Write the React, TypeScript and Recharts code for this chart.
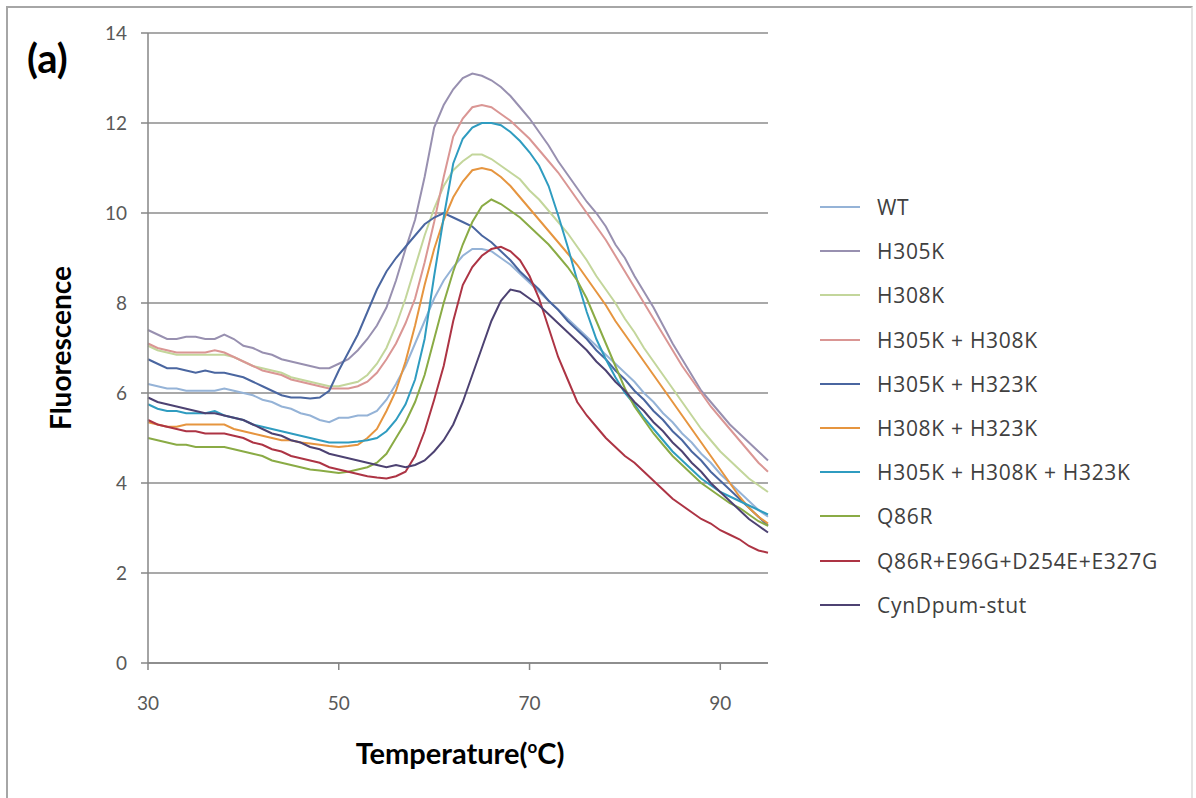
import React from 'react';
import { LineChart, Line, XAxis, YAxis, CartesianGrid } from 'recharts';

// temperature (°C) sampled every degree
const temps = [
  30, 31, 32, 33, 34, 35, 36, 37, 38, 39, 40, 41, 42, 43, 44, 45, 46, 47, 48, 49, 50, 51,
  52, 53, 54, 55, 56, 57, 58, 59, 60, 61, 62, 63, 64, 65, 66, 67, 68, 69, 70, 71, 72, 73,
  74, 75, 76, 77, 78, 79, 80, 81, 82, 83, 84, 85, 86, 87, 88, 89, 90, 91, 92, 93, 94, 95,
];

const wt = [
  6.2, 6.15, 6.1, 6.1, 6.05, 6.05, 6.05, 6.05, 6.1, 6.05, 6.0, 5.95, 5.85, 5.8, 5.7, 5.65, 5.55, 5.5, 5.4, 5.35, 5.45, 5.45,
  5.5, 5.5, 5.6, 5.85, 6.2, 6.6, 7.1, 7.6, 8.1, 8.5, 8.8, 9.05, 9.2, 9.2, 9.15, 9.0, 8.85, 8.65, 8.45, 8.25, 8.05, 7.85,
  7.65, 7.45, 7.25, 7.05, 6.85, 6.65, 6.45, 6.25, 6.0, 5.8, 5.55, 5.35, 5.1, 4.9, 4.65, 4.45, 4.2, 4.0, 3.8, 3.6, 3.4, 3.25,
];

const h305k = [
  7.4, 7.3, 7.2, 7.2, 7.25, 7.25, 7.2, 7.2, 7.3, 7.2, 7.05, 7.0, 6.9, 6.85, 6.75, 6.7, 6.65, 6.6, 6.55, 6.55, 6.65, 6.75,
  6.95, 7.2, 7.5, 7.9, 8.5, 9.2, 9.85, 10.8, 11.9, 12.4, 12.75, 13.0, 13.1, 13.05, 12.95, 12.8, 12.6, 12.35, 12.1, 11.8, 11.5, 11.15,
  10.85, 10.55, 10.25, 10.0, 9.7, 9.3, 9.0, 8.6, 8.25, 7.9, 7.5, 7.1, 6.75, 6.4, 6.05, 5.8, 5.55, 5.3, 5.1, 4.9, 4.7, 4.5,
];

const h308k = [
  7.05, 6.95, 6.9, 6.85, 6.85, 6.85, 6.85, 6.85, 6.85, 6.8, 6.7, 6.6, 6.55, 6.5, 6.45, 6.35, 6.3, 6.25, 6.2, 6.15, 6.15, 6.2,
  6.25, 6.4, 6.65, 7.0, 7.5, 8.1, 8.8, 9.5, 10.1, 10.6, 10.95, 11.15, 11.3, 11.3, 11.2, 11.05, 10.9, 10.75, 10.5, 10.3, 10.05, 9.8,
  9.55, 9.25, 8.95, 8.6, 8.3, 8.0, 7.65, 7.35, 7.0, 6.7, 6.4, 6.1, 5.8, 5.5, 5.2, 4.95, 4.7, 4.5, 4.3, 4.1, 3.95, 3.8,
];

const h305kH308k = [
  7.1, 7.0, 6.95, 6.9, 6.9, 6.9, 6.9, 6.95, 6.9, 6.8, 6.7, 6.6, 6.5, 6.45, 6.4, 6.3, 6.25, 6.2, 6.15, 6.1, 6.1, 6.1,
  6.15, 6.25, 6.45, 6.75, 7.1, 7.55, 8.1, 8.9, 9.8, 10.8, 11.7, 12.1, 12.35, 12.4, 12.35, 12.2, 12.05, 11.85, 11.65, 11.4, 11.15, 10.9,
  10.6, 10.3, 10.0, 9.7, 9.4, 9.05, 8.7, 8.35, 8.0, 7.65, 7.3, 6.95, 6.6, 6.3, 6.0, 5.7, 5.45, 5.2, 4.95, 4.7, 4.45, 4.25,
];

const h305kH323k = [
  6.75, 6.65, 6.55, 6.55, 6.5, 6.45, 6.5, 6.45, 6.45, 6.4, 6.35, 6.25, 6.15, 6.05, 5.95, 5.9, 5.9, 5.88, 5.9, 6.05, 6.5, 6.9,
  7.3, 7.8, 8.3, 8.7, 9.0, 9.25, 9.5, 9.75, 9.9, 10.0, 9.9, 9.8, 9.7, 9.5, 9.35, 9.15, 8.95, 8.7, 8.5, 8.3, 8.05, 7.85,
  7.6, 7.4, 7.2, 6.95, 6.75, 6.5, 6.3, 6.05, 5.85, 5.6, 5.4, 5.15, 4.95, 4.7, 4.5, 4.25, 4.05, 3.85, 3.65, 3.45, 3.25, 3.05,
];

const h308kH323k = [
  5.35, 5.3, 5.25, 5.25, 5.3, 5.3, 5.3, 5.3, 5.3, 5.2, 5.15, 5.1, 5.05, 5.0, 4.95, 4.95, 4.9, 4.88, 4.85, 4.82, 4.8, 4.82,
  4.85, 5.0, 5.2, 5.6, 6.05, 6.7, 7.5, 8.4, 9.2, 9.85, 10.35, 10.7, 10.95, 11.0, 10.95, 10.8, 10.6, 10.35, 10.1, 9.85, 9.6, 9.35,
  9.1, 8.85, 8.55, 8.25, 7.95, 7.6, 7.3, 7.0, 6.7, 6.4, 6.1, 5.8, 5.5, 5.2, 4.9, 4.6, 4.3, 4.0, 3.7, 3.45, 3.25, 3.1,
];

const triple = [
  5.75, 5.65, 5.6, 5.6, 5.55, 5.55, 5.55, 5.6, 5.5, 5.45, 5.4, 5.3, 5.25, 5.2, 5.15, 5.1, 5.05, 5.0, 4.95, 4.9, 4.9, 4.9,
  4.92, 4.95, 5.0, 5.15, 5.4, 5.75, 6.3, 7.2, 8.6, 9.9, 11.1, 11.65, 11.9, 12.0, 12.0, 11.95, 11.8, 11.6, 11.35, 11.05, 10.6, 9.95,
  9.25, 8.5, 7.8, 7.2, 6.75, 6.35, 6.0, 5.75, 5.45, 5.2, 4.95, 4.7, 4.5, 4.3, 4.1, 3.95, 3.8, 3.7, 3.6, 3.5, 3.4, 3.3,
];

const q86r = [
  5.0, 4.95, 4.9, 4.85, 4.85, 4.8, 4.8, 4.8, 4.8, 4.75, 4.7, 4.65, 4.6, 4.5, 4.45, 4.4, 4.35, 4.3, 4.28, 4.25, 4.22, 4.25,
  4.3, 4.35, 4.45, 4.65, 5.0, 5.35, 5.8, 6.4, 7.2, 8.0, 8.7, 9.3, 9.8, 10.15, 10.3, 10.2, 10.05, 9.9, 9.7, 9.5, 9.3, 9.05,
  8.8, 8.5, 8.1, 7.6, 7.1, 6.6, 6.1, 5.7, 5.4, 5.1, 4.85, 4.6, 4.4, 4.2, 4.0, 3.85, 3.7, 3.55, 3.45, 3.3, 3.15, 3.05,
];

const quad = [
  5.4, 5.3, 5.25, 5.2, 5.15, 5.15, 5.1, 5.1, 5.1, 5.05, 5.0, 4.9, 4.85, 4.75, 4.7, 4.6, 4.55, 4.5, 4.45, 4.35, 4.3, 4.25,
  4.2, 4.15, 4.12, 4.1, 4.15, 4.25, 4.6, 5.15, 5.85, 6.6, 7.6, 8.4, 8.8, 9.05, 9.2, 9.25, 9.15, 8.95, 8.6, 8.1, 7.45, 6.8,
  6.3, 5.8, 5.5, 5.25, 5.0, 4.8, 4.6, 4.45, 4.25, 4.05, 3.85, 3.65, 3.5, 3.35, 3.2, 3.1, 2.95, 2.85, 2.75, 2.6, 2.5, 2.45,
];

const cyn = [
  5.9, 5.8, 5.75, 5.7, 5.65, 5.6, 5.55, 5.55, 5.5, 5.45, 5.4, 5.3, 5.2, 5.1, 5.05, 4.95, 4.9, 4.8, 4.75, 4.65, 4.6, 4.55,
  4.5, 4.45, 4.4, 4.35, 4.4, 4.35, 4.4, 4.5, 4.7, 4.95, 5.3, 5.8, 6.4, 7.0, 7.6, 8.05, 8.3, 8.25, 8.1, 7.95, 7.75, 7.55,
  7.35, 7.15, 6.95, 6.7, 6.5, 6.25, 6.05, 5.8, 5.6, 5.35, 5.15, 4.9, 4.7, 4.45, 4.25, 4.0, 3.8, 3.6, 3.4, 3.2, 3.05, 2.9,
];

const series = [
  { key: 'wt', name: 'WT', color: '#95b3d7', values: wt },
  { key: 'h305k', name: 'H305K', color: '#9890b0', values: h305k },
  { key: 'h308k', name: 'H308K', color: '#c3d69b', values: h308k },
  { key: 'h305kH308k', name: 'H305K + H308K', color: '#da9694', values: h305kH308k },
  { key: 'h305kH323k', name: 'H305K + H323K', color: '#4a66a0', values: h305kH323k },
  { key: 'h308kH323k', name: 'H308K + H323K', color: '#e6953f', values: h308kH323k },
  { key: 'triple', name: 'H305K + H308K + H323K', color: '#2f9cc0', values: triple },
  { key: 'q86r', name: 'Q86R', color: '#8aab45', values: q86r },
  { key: 'quad', name: 'Q86R+E96G+D254E+E327G', color: '#ad3444', values: quad },
  { key: 'cyn', name: 'CynDpum-stut', color: '#4d4272', values: cyn },
];

const xTicks = [30, 50, 70, 90];
const yTicks = [0, 2, 4, 6, 8, 10, 12, 14];

const data = temps.map((t, i) => {
  const row: Record<string, number> = { t };
  series.forEach(s => { row[s.key] = s.values[i]; });
  return row;
});

const tickStyle = { fill: '#595959', fontSize: 19, fontFamily: 'Lato, sans-serif' };

export default function App() {
  return (
    <div style={{ position: 'absolute', left: 0, top: 0, width: 1196, height: 798, background: '#fff', overflow: 'hidden' }}>
      <div style={{ position: 'absolute', left: 6, top: 6, width: 1183, height: 800, borderLeft: '2px solid #a6a6a6', borderTop: '2px solid #a6a6a6', borderRight: '2px solid #e4e4e4' }} />

      <LineChart width={1196} height={798} data={data} margin={{ top: 33, right: 428, bottom: 95, left: 88 }}>
        <CartesianGrid vertical={false} stroke="#8c8c8c" strokeWidth={1.5} />
        <XAxis
          dataKey="t"
          type="number"
          domain={[30, 95]}
          ticks={xTicks}
          height={40}
          tickSize={7}
          tickMargin={27}
          stroke="#868686"
          strokeWidth={1.5}
          tick={tickStyle}
        />
        <YAxis
          domain={[0, 14]}
          ticks={yTicks}
          width={60}
          tickSize={7}
          tickMargin={14}
          stroke="#868686"
          strokeWidth={1.5}
          tick={tickStyle}
        />
        {series.map(s => (
          <Line
            key={s.key}
            dataKey={s.key}
            name={s.name}
            stroke={s.color}
            strokeWidth={2}
            dot={false}
            type="linear"
            isAnimationActive={false}
          />
        ))}
      </LineChart>

      <div style={{ position: 'absolute', left: 27, top: 34, fontFamily: 'Lato, sans-serif', fontWeight: 700, fontSize: 40, color: '#000' }}>(a)</div>

      <div style={{ position: 'absolute', left: 60, top: 348, transform: 'translate(-50%, -50%) rotate(-90deg)', fontFamily: 'Lato, sans-serif', fontWeight: 700, fontSize: 28, color: '#000', whiteSpace: 'nowrap' }}>
        Fluorescence
      </div>

      <div style={{ position: 'absolute', left: 460, top: 752, transform: 'translate(-50%, -50%)', fontFamily: 'Lato, sans-serif', fontWeight: 700, fontSize: 29, color: '#000', whiteSpace: 'nowrap' }}>
        Temperature(<sup style={{ fontSize: 17 }}>o</sup>C)
      </div>

      <div style={{ position: 'absolute', left: 820, top: 185 }}>
        {series.map(s => (
          <div key={s.key} style={{ display: 'flex', alignItems: 'center', height: 44.2 }}>
            <div style={{ width: 40, height: 2, background: s.color }} />
            <span style={{ marginLeft: 17, fontFamily: '"Open Sans", sans-serif', fontSize: 21, letterSpacing: 0.7, color: '#404040', whiteSpace: 'nowrap' }}>{s.name}</span>
          </div>
        ))}
      </div>
    </div>
  );
}
